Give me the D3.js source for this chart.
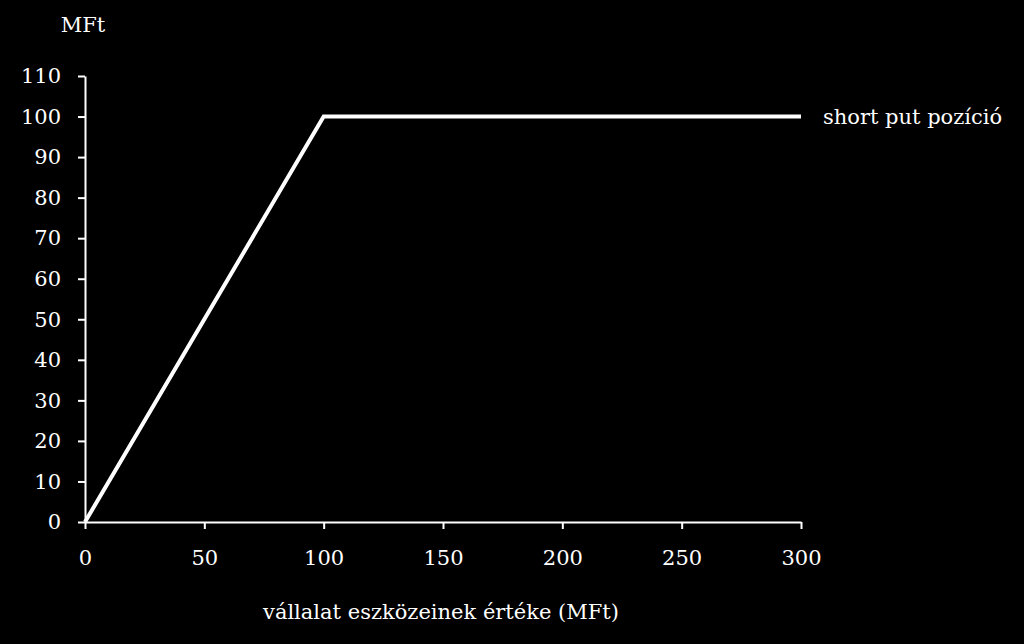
<!DOCTYPE html>
<html lang="hu">
<head>
	<meta charset="utf-8">
	<title>short put pozíció</title>
	<script src="https://d3js.org/d3.v7.min.js"></script>
	<style>
		body { margin: 0; background: #000; }
		text { font-family: "DejaVu Serif", serif; fill: #fff; }
	</style>
</head>
<body>
	<script>
		// data
		var assetValues = [0, 100, 300];       // vállalat eszközeinek értéke (MFt)
		var putValues = [0, 100, 100];         // short put pozíció (MFt)
		var xTicks = [0, 50, 100, 150, 200, 250, 300];
		var yTicks = [0, 10, 20, 30, 40, 50, 60, 70, 80, 90, 100, 110];
		var seriesName = "short put pozíció";

		var w = 1024, h = 644;
		// plot box (named so it doesn't clash with window.top)
		var plotLeft = 85, plotRight = 801, plotTop = 76, plotBottom = 522;
		var fs = 21;

		var svg = d3.select("body").append("svg")
			.attr("width", w)
			.attr("height", h);

		var x = d3.scaleLinear().domain([0, 300]).range([plotLeft, plotRight]);
		var y = d3.scaleLinear().domain([0, 110]).range([plotBottom, plotTop]);

		// x axis
		var xAxis = svg.append("g")
			.attr("transform", "translate(0," + plotBottom + ")")
			.call(d3.axisBottom(x).tickValues(xTicks).tickSize(7).tickPadding(21).tickSizeOuter(0));

		// y axis
		var yAxis = svg.append("g")
			.attr("transform", "translate(" + plotLeft + ",0)")
			.call(d3.axisLeft(y).tickValues(yTicks).tickSize(7).tickPadding(17).tickSizeOuter(0));

		[xAxis, yAxis].forEach(function(g) {
			g.selectAll("path, line").attr("stroke", "#fff").attr("stroke-width", 2);
			g.selectAll("text").attr("font-size", fs).attr("font-family", "DejaVu Serif, serif").attr("fill", "#fff");
		});

		// series
		var pts = assetValues.map(function(v, i) { return [v, putValues[i]]; });
		svg.append("path")
			.datum(pts)
			.attr("fill", "none")
			.attr("stroke", "#fff")
			.attr("stroke-width", 4)
			.attr("d", d3.line().x(function(d) { return x(d[0]); }).y(function(d) { return y(d[1]); }));

		// series label at the end of the line
		var last = pts[pts.length - 1];
		svg.append("text")
			.attr("x", x(last[0]) + 22)
			.attr("y", y(last[1]))
			.attr("dy", "0.35em")
			.attr("font-size", fs)
			.text(seriesName);

		// axis titles
		svg.append("text")
			.attr("x", 83)
			.attr("y", 25)
			.attr("dy", "0.35em")
			.attr("text-anchor", "middle")
			.attr("font-size", fs)
			.text("MFt");

		svg.append("text")
			.attr("x", 441)
			.attr("y", 612)
			.attr("dy", "0.35em")
			.attr("text-anchor", "middle")
			.attr("font-size", fs)
			.text("vállalat eszközeinek értéke (MFt)");
	</script>
</body>
</html>
